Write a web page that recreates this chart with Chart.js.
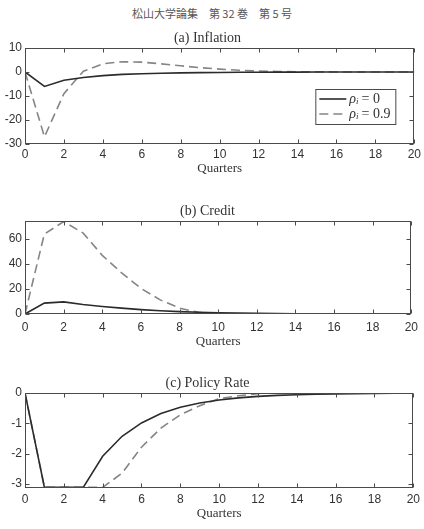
<!DOCTYPE html>
<html>
<head>
<meta charset="utf-8">
<script src="https://cdn.jsdelivr.net/npm/chart.js@4"></script>
<style>
  html, body { margin: 0; padding: 0; background: #fff; }
  body { width: 424px; height: 529px; position: relative; overflow: hidden; }
  #header {
    position: absolute; left: 0; top: 5px; width: 424px; text-align: center;
    font-family: "Noto Sans CJK JP", sans-serif; font-size: 11px; color: #555;
    line-height: 16px;
  }
  .panel { position: absolute; left: 0; width: 424px; }
</style>
</head>
<body>
<div id="header">松山大学論集　第 32 巻　第 5 号</div>
<div class="panel" id="boxA"><canvas id="chartA"></canvas></div>
<div class="panel" id="boxB"><canvas id="chartB"></canvas></div>
<div class="panel" id="boxC"><canvas id="chartC"></canvas></div>
<script>
// valores (impulso-resposta, trimestres 0..20)
const quarters = [0, 1, 2, 3, 4, 5, 6, 7, 8, 9, 10, 11, 12, 13, 14, 15, 16, 17, 18, 19, 20];
const rhoValues = ['0', '0.9'];

const inflationRho0 = [0, -6.0, -3.4, -2.3, -1.5, -1.0, -0.7, -0.5, -0.35, -0.25, -0.18, -0.13, -0.09, -0.06, -0.04, -0.03, -0.02, -0.01, -0.01, 0, 0];
const inflationRho09 = [0, -27, -9.0, 0.3, 3.4, 4.3, 4.1, 3.4, 2.6, 1.8, 1.2, 0.7, 0.4, 0.2, 0.1, 0.05, 0.02, 0, 0, 0, 0];

const creditRho0 = [0, 8.7, 9.7, 7.6, 6.0, 4.7, 3.5, 2.6, 1.9, 1.4, 1.0, 0.7, 0.5, 0.35, 0.25, 0.2, 0.15, 0.1, 0.08, 0.06, 0.05];
const creditRho09 = [0, 64, 74, 65, 47, 33, 20.5, 11.3, 4.7, 1.3, -0.3, -0.4, -0.4, -0.3, -0.3, -0.2, -0.2, -0.1, -0.1, -0.1, -0.1];

const rateRho0 = [0, -3.12, -3.12, -3.12, -2.09, -1.43, -0.99, -0.68, -0.47, -0.33, -0.23, -0.16, -0.11, -0.08, -0.06, -0.04, -0.03, -0.02, -0.015, -0.01, -0.01];
const rateRho09 = [0, -3.12, -3.12, -3.12, -3.12, -2.65, -1.79, -1.16, -0.72, -0.42, -0.19, -0.09, -0.02, 0.02, 0.03, 0.03, 0.02, 0.01, 0.01, 0, 0];

const inflationTicks = [-30, -20, -10, 0, 10];
const creditTicks = [0, 20, 40, 60];
const rateTicks = [-3, -2, -1, 0];

const axisColor = '#4a4a4a';
const textColor = '#333';

// moldura + ticks internos (estilo MATLAB)
const boxPlugin = {
  id: 'box',
  afterDatasetsDraw(chart) {
    const { ctx, chartArea: a, scales } = chart;
    ctx.save();
    ctx.strokeStyle = axisColor;
    ctx.lineWidth = 1;
    const L = Math.round(a.left) + 0.5, R = Math.round(a.right) - 0.5;
    const T = Math.round(a.top) + 0.5, B = Math.round(a.bottom) - 0.5;
    ctx.beginPath();
    scales.x.ticks.forEach(t => {
      const px = Math.round(scales.x.getPixelForValue(t.value)) + 0.5;
      ctx.moveTo(px, B); ctx.lineTo(px, B - 4);
      ctx.moveTo(px, T); ctx.lineTo(px, T + 4);
    });
    scales.y.ticks.forEach(t => {
      const py = Math.round(scales.y.getPixelForValue(t.value)) + 0.5;
      ctx.moveTo(L, py); ctx.lineTo(L + 4, py);
      ctx.moveTo(R, py); ctx.lineTo(R - 4, py);
    });
    ctx.stroke();
    ctx.strokeRect(L, T, R - L, B - T);
    ctx.restore();
  }
};

// legenda dentro do painel (a)
const legendPlugin = {
  id: 'boxLegend',
  afterDraw(chart, args, opts) {
    if (!opts.show) return;
    const { ctx, chartArea: a } = chart;
    const x0 = a.right - 99, y0 = a.top + 41, w = 80, h = 35;
    ctx.save();
    ctx.fillStyle = '#fff';
    ctx.fillRect(x0, y0, w, h);
    ctx.strokeStyle = axisColor;
    ctx.lineWidth = 1;
    ctx.strokeRect(x0 + 0.5, y0 + 0.5, w, h);
    chart.data.datasets.forEach((ds, i) => {
      const cy = y0 + 10 + i * 15;
      ctx.beginPath();
      ctx.strokeStyle = ds.borderColor;
      ctx.lineWidth = ds.borderWidth;
      ctx.setLineDash(ds.borderDash || []);
      ctx.moveTo(x0 + 4, cy);
      ctx.lineTo(x0 + 31, cy);
      ctx.stroke();
      ctx.setLineDash([]);
      ctx.fillStyle = textColor;
      ctx.textBaseline = 'middle';
      let tx = x0 + 34;
      ctx.font = 'italic 14px "Liberation Serif", serif';
      ctx.fillText('ρ', tx, cy);
      tx += ctx.measureText('ρ').width;
      ctx.font = 'italic 9px "Liberation Serif", serif';
      ctx.fillText('i', tx, cy + 3);
      tx += ctx.measureText('i').width + 3;
      ctx.font = '14px "Liberation Serif", serif';
      ctx.fillText('= ' + rhoValues[i], tx, cy);
    });
    ctx.restore();
  }
};

function toXY(values) {
  return quarters.map((q, i) => ({ x: q, y: values[i] }));
}

function makePanel(boxId, canvasId, p) {
  const box = document.getElementById(boxId);
  box.style.top = p.top + 'px';
  box.style.height = (20 + p.plotH + p.xh) + 'px';
  return new Chart(document.getElementById(canvasId), {
    type: 'line',
    data: {
      datasets: [
        {
          label: 'ρi = 0',
          data: toXY(p.solid),
          borderColor: '#2b2b2b',
          borderWidth: 1.6,
          pointRadius: 0,
          tension: 0,
          fill: false
        },
        {
          label: 'ρi = 0.9',
          data: toXY(p.dashed),
          borderColor: '#858585',
          borderWidth: 1.6,
          borderDash: [9, 5],
          pointRadius: 0,
          tension: 0,
          fill: false
        }
      ]
    },
    options: {
      responsive: true,
      maintainAspectRatio: false,
      animation: false,
      events: [],
      layout: { padding: { left: 0, right: 9, top: 0, bottom: 0 } },
      plugins: {
        legend: { display: false },
        tooltip: { enabled: false },
        title: {
          display: true,
          text: p.title,
          color: textColor,
          font: { family: '"Liberation Serif", serif', size: 14, weight: 'normal', lineHeight: '16px' },
          padding: { top: 2, bottom: 2 }
        },
        boxLegend: { show: !!p.legend }
      },
      scales: {
        x: {
          type: 'linear',
          min: 0,
          max: 20,
          grid: { display: false, drawTicks: false },
          border: { display: false },
          ticks: {
            stepSize: 2,
            padding: p.tickPad,
            color: textColor,
            font: { family: '"Liberation Sans", Arial, sans-serif', size: 12 },
            maxRotation: 0
          },
          title: {
            display: true,
            text: 'Quarters',
            color: textColor,
            font: { family: '"Liberation Serif", serif', size: 13 },
            padding: 0
          },
          afterFit(scale) { scale.height = p.xh; }
        },
        y: {
          min: p.ymin,
          max: p.ymax,
          grid: { display: false, drawTicks: false },
          border: { display: false },
          afterBuildTicks(scale) { scale.ticks = p.ticks.map(v => ({ value: v })); },
          ticks: {
            padding: 3,
            color: textColor,
            font: { family: '"Liberation Sans", Arial, sans-serif', size: 12 }
          },
          afterFit(scale) { scale.width = 25; }
        }
      }
    },
    plugins: [boxPlugin, legendPlugin]
  });
}

makePanel('boxA', 'chartA', {
  top: 28, plotH: 96, xh: 32, tickPad: 3,
  title: '(a) Inflation', solid: inflationRho0, dashed: inflationRho09,
  ymin: -30, ymax: 10, ticks: inflationTicks, legend: true
});
makePanel('boxB', 'chartB', {
  top: 201, plotH: 93, xh: 35, tickPad: 6,
  title: '(b) Credit', solid: creditRho0, dashed: creditRho09,
  ymin: 0, ymax: 74.5, ticks: creditTicks
});
makePanel('boxC', 'chartC', {
  top: 373, plotH: 95, xh: 33, tickPad: 4,
  title: '(c) Policy Rate', solid: rateRho0, dashed: rateRho09,
  ymin: -3.14, ymax: 0, ticks: rateTicks
});
</script>
</body>
</html>
